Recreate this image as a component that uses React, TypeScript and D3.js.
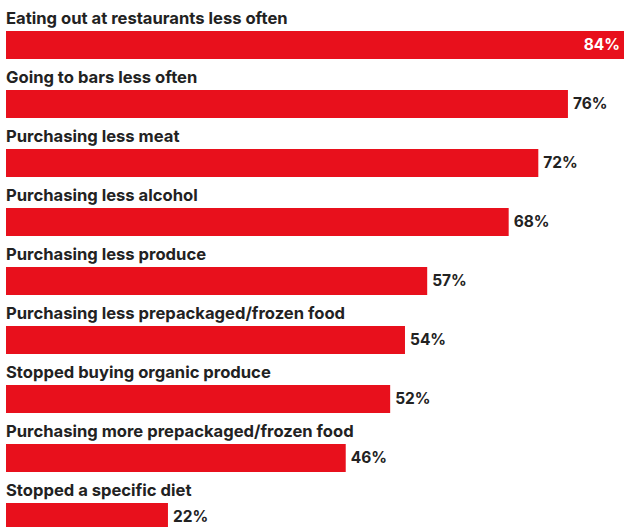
import React from "react";
import * as d3 from "d3";

const categories = [
  "Eating out at restaurants less often",
  "Going to bars less often",
  "Purchasing less meat",
  "Purchasing less alcohol",
  "Purchasing less produce",
  "Purchasing less prepackaged/frozen food",
  "Stopped buying organic produce",
  "Purchasing more prepackaged/frozen food",
  "Stopped a specific diet",
];
const values = [84, 76, 72, 68, 57, 54, 52, 46, 22];

const W = 624;
const H = 527;

export default function App() {
  const x = d3.scaleLinear().domain([0, 100]).range([5, 745.7]);
  const y = d3.scaleBand<string>().domain(categories).range([0, 59 * categories.length]).paddingInner(0).paddingOuter(0);
  const barTop = 31;
  const barH = 28;
  const font = "Inter, 'DejaVu Sans', sans-serif";
  return (
    <svg width={W} height={H} style={{ position: "absolute", left: 0, top: 0, background: "#fff" }}>
      {categories.map((c, i) => {
        const y0 = (y(c) as number) + barTop;
        const xe = x(values[i]);
        const inside = xe > W - 40;
        return (
          <g key={c}>
            <text x={6} y={y0 - 7} fontFamily={font} fontWeight={700} fontSize={16.6} fill="#222">{c}</text>
            <rect x={x(0) + 1} y={y0} width={xe - x(0) - 1} height={barH} fill="#e8101c" />
            <text
              x={inside ? Math.min(xe, W) - 4 : xe + 5}
              y={y0 + barH / 2}
              dy="0.35em"
              textAnchor={inside ? "end" : "start"}
              fontFamily={font}
              fontWeight={700}
              fontSize={15.5}
              fill={inside ? "#fff" : "#222"}
            >
              {values[i]}%
            </text>
          </g>
        );
      })}
    </svg>
  );
}
